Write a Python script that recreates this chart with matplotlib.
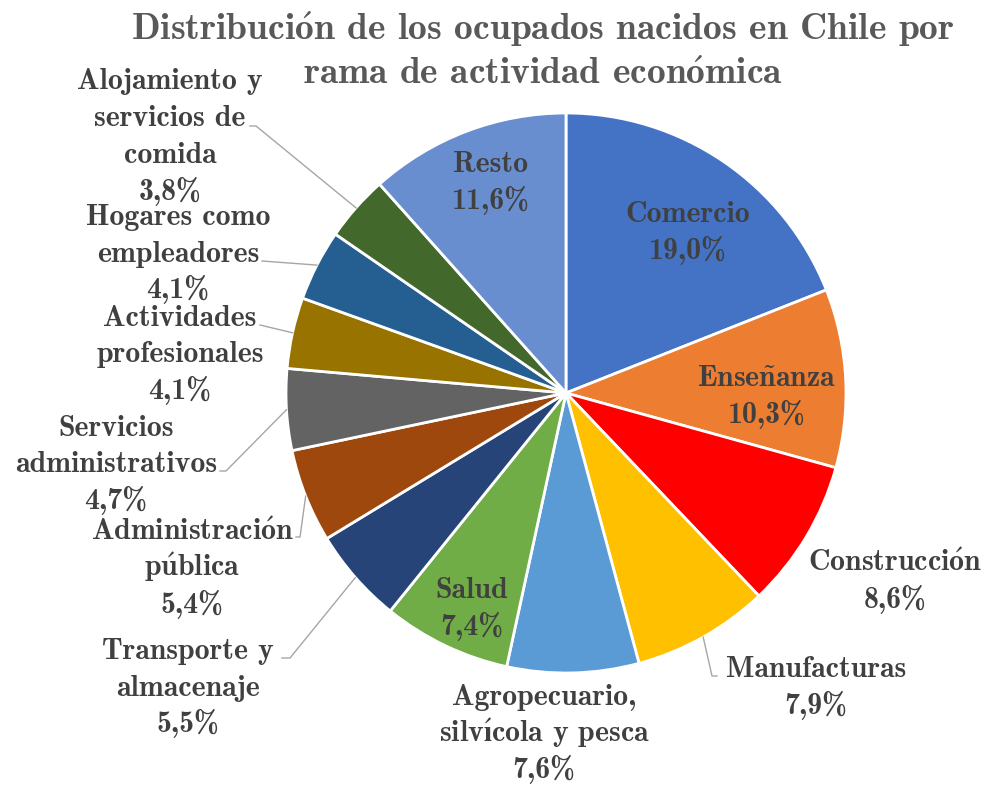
import matplotlib
matplotlib.use("Agg")
import matplotlib.pyplot as plt
import numpy as np

# data, clockwise from the top
labels = ["Comercio", "Enseñanza", "Construcción", "Manufacturas",
          "Agropecuario,\nsilvícola y pesca", "Salud", "Transporte y\nalmacenaje",
          "Administración\npública", "Servicios\nadministrativos",
          "Actividades\nprofesionales", "Hogares como\nempleadores",
          "Alojamiento y\nservicios de\ncomida", "Resto"]
values = [19.0, 10.3, 8.6, 7.9, 7.6, 7.4, 5.5, 5.4, 4.7, 4.1, 4.1, 3.8, 11.6]
colors = ["#4472C4", "#ED7D31", "#FF0000", "#FFC000", "#5B9BD5", "#70AD47",
          "#264478", "#9E480E", "#636363", "#997300", "#255E91", "#43682B", "#698ED0"]
title = "Distribución de los ocupados nacidos en Chile por\nrama de actividad económica"

# label block centres in pixel coords (x, y from top)
label_pos = [(688, 231), (767, 395), (895, 580), (816, 686), (544, 732), (472, 607),
             (188, 686), (192, 567), (116, 463), (180, 353), (178, 252), (170, 135),
             (491, 181)]
# leader line start next to the text and optional elbow, None = no leader
leader_start = [None, None, None, (717, 676), None, None, (282, 658), (296, 537),
                (220, 471), (260, 325), (262, 261), (250, 126), None]
leader_elbow = [None, None, None, (712, 676), None, None, (290, 658), (300, 537),
                (226, 471), None, None, (256, 126), None]

# cmb10 has no accented letters, build them with mathtext accents
accents = {"ó": r"$\mathbf{\acute{o}}$", "í": r"$\mathbf{\acute{ı}}$",
           "ú": r"$\mathbf{\acute{u}}$", "ñ": r"$\mathbf{\tilde{n}}$"}


def tex(s):
    return "".join(accents.get(c, c) for c in s)


W, H = 984, 786
plt.rcParams['font.family'] = ['cmb10', 'DejaVu Serif']
plt.rcParams['mathtext.fontset'] = 'cm'

fig = plt.figure(figsize=(W / 100, H / 100), dpi=100)
ax = fig.add_axes([0, 0, 1, 1])

cx, cy, r = 566, H - 393, 280
wedges, _ = ax.pie(values, colors=colors, startangle=90, counterclock=False,
                   center=(cx, cy), radius=r, frame=True,
                   wedgeprops=dict(edgecolor='white', linewidth=2))
ax.set_xlim(0, W)
ax.set_ylim(0, H)
ax.set_aspect('equal')
ax.axis('off')


def block(x, y, lines, step, base, **kw):
    # one text per line so mathtext accents don't change the spacing
    n = len(lines)
    for k, line in enumerate(lines):
        yc = y - (n - 1) / 2 * step + k * step
        ax.text(x, H - yc - base, tex(line), ha='center', va='baseline', **kw)


txt_color = "#404040"
cum = np.cumsum([0] + values[:-1])
for i, (lab, v) in enumerate(zip(labels, values)):
    x, y = label_pos[i]
    lines = lab.split("\n") + [("%.1f%%" % v).replace(".", ",")]
    block(x, y, lines, 36.7, 9.5, fontsize=21.5, color=txt_color)
    if leader_start[i] is not None:
        mid = (cum[i] + v / 2) / 100.0 * 2 * np.pi
        ex = cx + r * np.sin(mid)
        ey = cy + r * np.cos(mid)
        pts = [leader_start[i]]
        if leader_elbow[i] is not None:
            pts.append(leader_elbow[i])
        xs = [p[0] for p in pts] + [ex]
        ys = [H - p[1] for p in pts] + [ey]
        ax.plot(xs, ys, color="#A6A6A6", lw=1)

block(543, 50, title.split("\n"), 44, 12, fontsize=27, color="#595959")

fig.savefig("out.png", dpi=100)
